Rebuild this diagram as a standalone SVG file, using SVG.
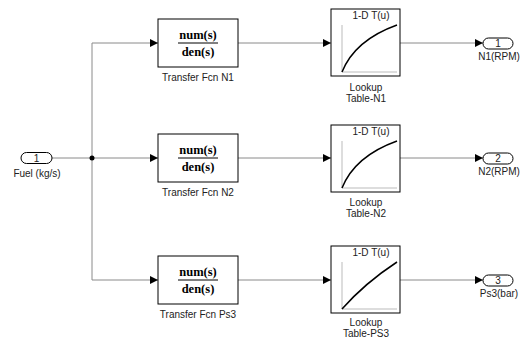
<svg xmlns="http://www.w3.org/2000/svg" width="521" height="341" viewBox="0 0 521 341">
<defs>
<style>
.blk{fill:#fff;stroke:#000;stroke-width:1}
.port{fill:#fff;stroke:#000;stroke-width:1}
.lbl{font-family:"Liberation Sans",Arial,sans-serif;font-size:10px;fill:#222;text-anchor:middle}
.tf{font-family:"Liberation Serif","Times New Roman",serif;font-size:12.5px;font-weight:bold;fill:#000;text-anchor:middle}
.ax{stroke:#bbb;stroke-width:1;fill:none}
.cv{stroke:#000;stroke-width:1.5;fill:none}
.ln{stroke:#8a8a8a;stroke-width:1;fill:none}
</style>
<marker id="ah" viewBox="0 0 8 8" refX="8" refY="4" markerWidth="8" markerHeight="8" markerUnits="userSpaceOnUse" orient="auto">
<path d="M0,0 L8,4 L0,8 Z" fill="#000"/>
</marker>
</defs>
<rect width="521" height="341" fill="#fff"/>

<g id="connectors">
<path class="ln" d="M52,158 H92"/>
<path class="ln" d="M92,43 V280"/>
<path class="ln" d="M92,43 H158" marker-end="url(#ah)"/>
<path class="ln" d="M92,158 H158" marker-end="url(#ah)"/>
<path class="ln" d="M92,280 H158" marker-end="url(#ah)"/>
<path class="ln" d="M238,43 H331" marker-end="url(#ah)"/>
<path class="ln" d="M238,158 H331" marker-end="url(#ah)"/>
<path class="ln" d="M238,280 H331" marker-end="url(#ah)"/>
<path class="ln" d="M400,43 H483" marker-end="url(#ah)"/>
<path class="ln" d="M400,158 H483" marker-end="url(#ah)"/>
<path class="ln" d="M400,280 H483" marker-end="url(#ah)"/>
<circle cx="92" cy="158" r="2.5" fill="#000"/>
</g>

<g id="in1">
<rect class="port" x="21" y="152.5" width="31" height="11" rx="5.5"/>
<text class="lbl" x="36.5" y="161.5">1</text>
<text class="lbl" x="37" y="177">Fuel (kg/s)</text>
</g>

<g id="tf_n1">
<rect class="blk" x="158" y="19" width="80" height="48"/>
<text class="tf" x="198" y="38.5">num(s)</text>
<line x1="178" y1="43" x2="218" y2="43" stroke="#000" stroke-width="1"/>
<text class="tf" x="198" y="56">den(s)</text>
<text class="lbl" x="198" y="81">Transfer Fcn N1</text>
</g>

<g id="tf_n2">
<rect class="blk" x="158" y="134" width="80" height="48"/>
<text class="tf" x="198" y="153.5">num(s)</text>
<line x1="178" y1="158" x2="218" y2="158" stroke="#000" stroke-width="1"/>
<text class="tf" x="198" y="171">den(s)</text>
<text class="lbl" x="198" y="196">Transfer Fcn N2</text>
</g>

<g id="tf_ps3">
<rect class="blk" x="158" y="256" width="80" height="48"/>
<text class="tf" x="198" y="275.5">num(s)</text>
<line x1="178" y1="280" x2="218" y2="280" stroke="#000" stroke-width="1"/>
<text class="tf" x="198" y="293">den(s)</text>
<text class="lbl" x="198" y="318">Transfer Fcn Ps3</text>
</g>

<g id="lut_n1">
<rect class="blk" x="331" y="9" width="69" height="67"/>
<text class="lbl" x="371" y="19">1-D T(u)</text>
<path class="ax" d="M342,25 V72 H397"/>
<path class="cv" d="M342,72 Q355,40 397,25"/>
<text class="lbl" x="366" y="91">Lookup</text>
<text class="lbl" x="366" y="102">Table-N1</text>
</g>

<g id="lut_n2">
<rect class="blk" x="331" y="125" width="69" height="67"/>
<text class="lbl" x="371" y="135">1-D T(u)</text>
<path class="ax" d="M342,141 V188 H397"/>
<path class="cv" d="M342,188 Q355,156 397,141"/>
<text class="lbl" x="366" y="206">Lookup</text>
<text class="lbl" x="366" y="217">Table-N2</text>
</g>

<g id="lut_ps3">
<rect class="blk" x="331" y="246" width="69" height="67"/>
<text class="lbl" x="371" y="256">1-D T(u)</text>
<path class="ax" d="M342,262 V309 H397"/>
<path class="cv" d="M342,309 Q365,283 397,262"/>
<text class="lbl" x="366" y="326">Lookup</text>
<text class="lbl" x="366" y="337">Table-PS3</text>
</g>

<g id="out1">
<rect class="port" x="483" y="38" width="30" height="11" rx="5.5"/>
<text class="lbl" x="498" y="47">1</text>
<text class="lbl" x="499" y="60">N1(RPM)</text>
</g>

<g id="out2">
<rect class="port" x="483" y="153" width="30" height="11" rx="5.5"/>
<text class="lbl" x="498" y="162">2</text>
<text class="lbl" x="499" y="175">N2(RPM)</text>
</g>

<g id="out3">
<rect class="port" x="483" y="275" width="30" height="11" rx="5.5"/>
<text class="lbl" x="498" y="284">3</text>
<text class="lbl" x="499" y="297">Ps3(bar)</text>
</g>
</svg>
